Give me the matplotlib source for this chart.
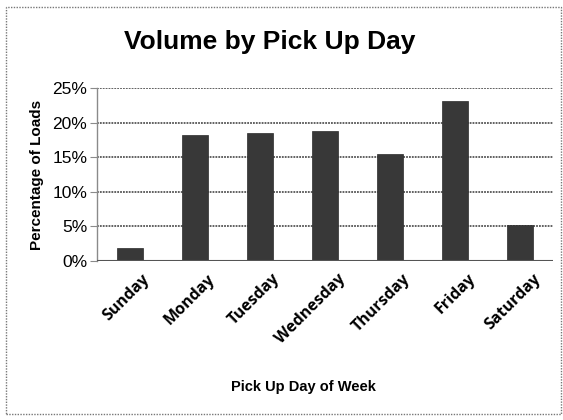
import matplotlib.pyplot as plt
from matplotlib.patches import Rectangle
from matplotlib.ticker import FuncFormatter
from matplotlib.transforms import ScaledTranslation

days = ['Sunday', 'Monday', 'Tuesday', 'Wednesday', 'Thursday', 'Friday', 'Saturday']
pct_loads = [1.9, 18.2, 18.5, 18.8, 15.5, 23.1, 5.2]
y_ticks = [0, 5, 10, 15, 20, 25]

sans = ['Liberation Sans', 'DejaVu Sans']

fig = plt.figure(figsize=(5.63, 4.2), dpi=100)
ax = fig.add_axes([97 / 563, 1 - 261 / 420, (553 - 97) / 563, (261 - 88) / 420])

x = range(len(days))
ax.bar(x, pct_loads, width=0.4, color='#383838', edgecolor='#2a2a2a', linewidth=0.5, zorder=3)

ax.set_xlim(-0.5, len(days) - 0.5)
ax.set_ylim(0, 25)
ax.set_yticks(y_ticks)
ax.yaxis.set_major_formatter(FuncFormatter(lambda v, p: '{:.0f}%'.format(v)))
ax.grid(axis='y', color='#555555', linewidth=1.3, linestyle=(0, (1, 0.6)), zorder=0)
for s in ['top', 'right', 'bottom']:
    ax.spines[s].set_visible(False)
ax.spines['left'].set_color('#8a8a8a')
ax.spines['left'].set_linewidth(1.0)
ax.axhline(0, color='#555555', linewidth=1.5, zorder=4)
ax.tick_params(axis='y', length=5, color='#8a8a8a', labelsize=12.5, pad=2)
ax.tick_params(axis='x', length=0, pad=7)
for lab in ax.get_yticklabels():
    lab.set_family(sans)

ax.set_xticks(list(x))
ax.set_xticklabels(days, rotation=45, ha='right', rotation_mode='anchor',
                   fontsize=11.5, fontweight='bold', family=['Open Sans', 'DejaVu Sans'])
shift = ScaledTranslation(12 / 100, 0, fig.dpi_scale_trans)
for lab in ax.get_xticklabels():
    lab.set_transform(lab.get_transform() + shift)

ax.set_ylabel('Percentage of Loads', fontsize=11, fontweight='bold', family=sans, labelpad=6)
fig.text(303 / 563, 1 - 387 / 420, 'Pick Up Day of Week', ha='center', va='center',
         fontsize=10.5, fontweight='bold', family=sans)
fig.text(270 / 563, 1 - 42 / 420, 'Volume by Pick Up Day', ha='center', va='center',
         fontsize=19, fontweight='bold', family=sans)

# dotted outer frame
fig.patches.append(Rectangle((6 / 563, 1 - 414 / 420), 555 / 563, 407 / 420, transform=fig.transFigure,
                             fill=False, edgecolor='#777777', linewidth=1.0, linestyle=(0, (1, 1))))

fig.savefig('out.png', dpi=100)
